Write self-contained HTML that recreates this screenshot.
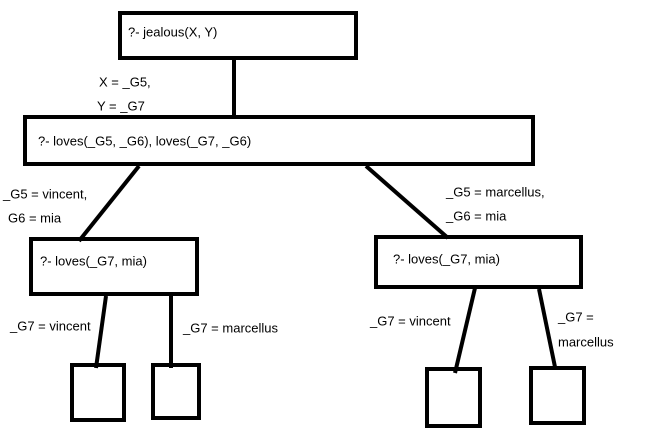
<!DOCTYPE html>
<html><head><style>
html,body{margin:0;padding:0;background:#fff;}
svg{display:block;}
text{font-family:"Liberation Sans","Noto Sans CJK KR",sans-serif;font-size:13px;fill:#000;dominant-baseline:middle;}
</style></head><body>
<svg width="663" height="431" viewBox="0 0 663 431" xmlns="http://www.w3.org/2000/svg">
<g fill="none" stroke="#000" stroke-width="4">
<rect x="120" y="13" width="236" height="45"/>
<rect x="25" y="117" width="508" height="47"/>
<rect x="31" y="239" width="166" height="55"/>
<rect x="376" y="237" width="205" height="50"/>
<rect x="72" y="365" width="52" height="55"/>
<rect x="153" y="365" width="46" height="53"/>
<rect x="427" y="369" width="53" height="57"/>
<rect x="531" y="368" width="53" height="55"/>
<line x1="234" y1="58" x2="234" y2="117"/>
<line x1="139" y1="166" x2="79" y2="241"/>
<line x1="366" y1="166" x2="448" y2="238"/>
<line x1="106" y1="296" x2="96" y2="368"/>
<line x1="171" y1="296" x2="171" y2="368"/>
<line x1="475" y1="288" x2="455" y2="373"/>
<line x1="539" y1="289" x2="555" y2="367"/>
</g>
<text x="128" y="33">?- jealous(X, Y)</text>
<text x="99" y="83">X = _G5,</text>
<text x="97" y="107">Y = _G7</text>
<text x="38" y="142">?- loves(_G5, _G6), loves(_G7, _G6)</text>
<text x="3" y="195">_G5 = vincent,</text>
<text x="8" y="219">G6 = mia</text>
<text x="446" y="193">_G5 = marcellus,</text>
<text x="446" y="217">_G6 = mia</text>
<text x="40" y="262">?- loves(_G7, mia)</text>
<text x="393" y="260">?- loves(_G7, mia)</text>
<text x="10" y="327">_G7 = vincent</text>
<text x="183" y="329">_G7 = marcellus</text>
<text x="370" y="322">_G7 = vincent</text>
<text x="558" y="318">_G7 =</text>
<text x="558" y="343">marcellus</text>
</svg>
</body></html>
